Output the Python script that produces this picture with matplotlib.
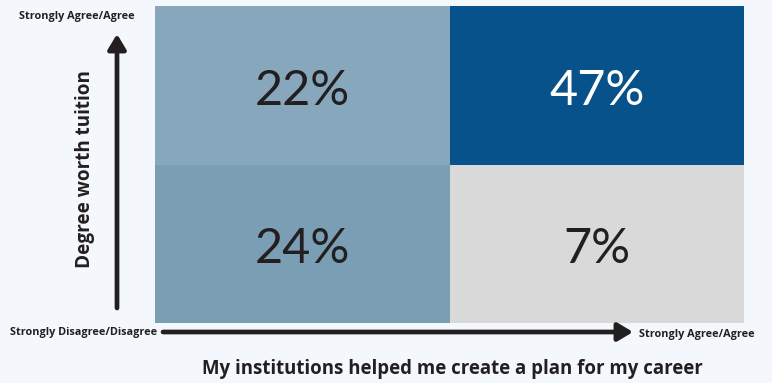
import matplotlib
matplotlib.use("Agg")
import matplotlib.pyplot as plt
from matplotlib.colors import LinearSegmentedColormap, Normalize
from matplotlib.patches import FancyArrowPatch
import numpy as np

# Share of respondents in each quadrant (rows: top -> bottom, cols: left -> right)
row_labels = ["Strongly Agree/Agree", "Strongly Disagree/Disagree"]
col_labels = ["Strongly Disagree/Disagree", "Strongly Agree/Agree"]
values = [[22, 47],
          [24, 7]]
x_title = "My institutions helped me create a plan for my career"
y_title = "Degree worth tuition"

W, H = 772, 383
bg = "#F4F8FC"
ink = "#231F20"
fig = plt.figure(figsize=(W / 100, H / 100), dpi=100, facecolor=bg)

def fx(px):
    return px / W

def fy(py):
    return 1 - py / H

# Heatmap grid
left, right, top, bottom = 155, 744, 6, 323
ax = fig.add_axes([fx(left), fy(bottom), fx(right - left), (bottom - top) / H])
cmap = LinearSegmentedColormap.from_list(
    "quad",
    [(0.0, "#D9D9D9"), (15 / 40, "#86A7BC"), (17 / 40, "#7A9FB5"), (1.0, "#07528A")],
)
norm = Normalize(vmin=7, vmax=47)
arr = np.array(values, dtype=float)
ax.pcolormesh(arr[::-1], cmap=cmap, norm=norm)
ax.set_xlim(0, 2)
ax.set_ylim(0, 2)
ax.set_axis_off()

for r, row in enumerate(values):
    for c, v in enumerate(row):
        color = "white" if v > 35 else ink
        ax.text(c + 0.5, 1.5 - r - 0.035, f"{v}%", ha="center", va="center",
                fontsize=35, family="Lato", color=color)

# Axis arrows
arrow_kw = dict(arrowstyle="-|>,head_length=0.75,head_width=0.45",
                color=ink, lw=3.4, shrinkA=0, shrinkB=0)
fig.add_artist(FancyArrowPatch(
    (fx(117), fy(308)), (fx(117), fy(34)), transform=fig.transFigure,
    mutation_scale=12, **arrow_kw))
fig.add_artist(FancyArrowPatch(
    (fx(163), fy(332)), (fx(633), fy(332)), transform=fig.transFigure,
    mutation_scale=12, **arrow_kw))

label_kw = dict(fontsize=7.8, fontweight="bold", family="Open Sans", color=ink)
fig.text(fx(77), fy(17), row_labels[0], ha="center", va="center", **label_kw)
fig.text(fx(10), fy(332), col_labels[0], ha="left", va="center", **label_kw)
fig.text(fx(639), fy(334), col_labels[1], ha="left", va="center", **label_kw)

fig.text(fx(452), fy(369), x_title, ha="center", va="center",
         fontsize=13.4, fontweight="bold", family="Open Sans", color=ink)
fig.text(fx(85), fy(169), y_title, ha="center", va="center", rotation=90,
         fontsize=13.6, fontweight="bold", family="Open Sans", color=ink)

fig.savefig("out.png", dpi=100, facecolor=bg)
